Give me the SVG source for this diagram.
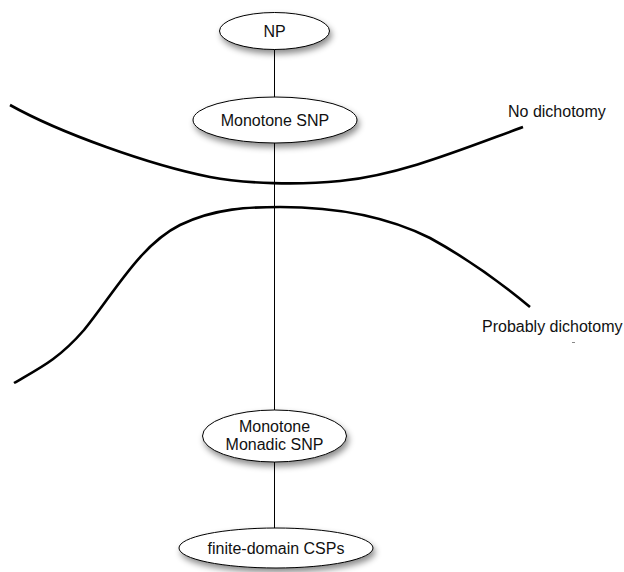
<svg xmlns="http://www.w3.org/2000/svg" width="624" height="572" viewBox="0 0 624 572">
  <defs>
    <filter id="shadow" x="-20%" y="-30%" width="150%" height="180%">
      <feDropShadow dx="2" dy="4" stdDeviation="3" flood-color="#000" flood-opacity="0.45"/>
    </filter>
  </defs>
  <style>
    .node ellipse { fill: #fff; stroke: #000; stroke-width: 1; filter: url(#shadow); }
    .label { font-family: "Liberation Sans", Arial, sans-serif; font-size: 16px; fill: #111; text-anchor: middle; }
    .note { font-family: "Liberation Sans", Arial, sans-serif; font-size: 16px; fill: #111; }
    .edge { stroke: #000; stroke-width: 1; fill: none; }
    .boundary { stroke: #000; stroke-width: 2.6; fill: none; stroke-linecap: butt; }
  </style>

  <!-- boundary curves between regions -->
  <g id="boundaries">
    <path class="boundary" d="M10,105 C60,133 150,165 210,177 C245,184 300,185 340,181 C400,175 460,150 523,127"/>
    <path class="boundary" d="M14,383 C38,369 58,360 84,330 C114,293 140,245 180,225 C215,208 250,207 280,207 C340,207 390,218 430,238 C470,260 500,282 530,307"/>
  </g>

  <!-- connectors -->
  <g id="connectors">
    <line class="edge" x1="274.5" y1="49" x2="274.5" y2="98"/>
    <line class="edge" x1="274.5" y1="143" x2="274.5" y2="410"/>
    <line class="edge" x1="274.5" y1="462" x2="274.5" y2="528"/>
  </g>

  <g id="np" class="node">
    <ellipse cx="274.5" cy="31" rx="55" ry="18.5"/>
    <text class="label" x="274.5" y="37">NP</text>
  </g>

  <g id="monotone-snp" class="node">
    <ellipse cx="275" cy="120" rx="82" ry="23"/>
    <text class="label" x="275" y="126">Monotone SNP</text>
  </g>

  <g id="monotone-monadic-snp" class="node">
    <ellipse cx="274.5" cy="436" rx="72" ry="26"/>
    <text class="label" x="274.5" y="432">Monotone</text>
    <text class="label" x="274.5" y="450">Monadic SNP</text>
  </g>

  <g id="finite-domain-csps" class="node">
    <ellipse cx="276" cy="548" rx="97" ry="20"/>
    <text class="label" x="276" y="554">finite-domain CSPs</text>
  </g>

  <!-- region labels -->
  <g id="region-labels">
    <text class="note" x="508" y="117">No dichotomy</text>
    <text class="note" x="482" y="332">Probably dichotomy</text>
    <line x1="572" y1="342.5" x2="575" y2="342.5" stroke="#888" stroke-width="1"/>
  </g>
</svg>
